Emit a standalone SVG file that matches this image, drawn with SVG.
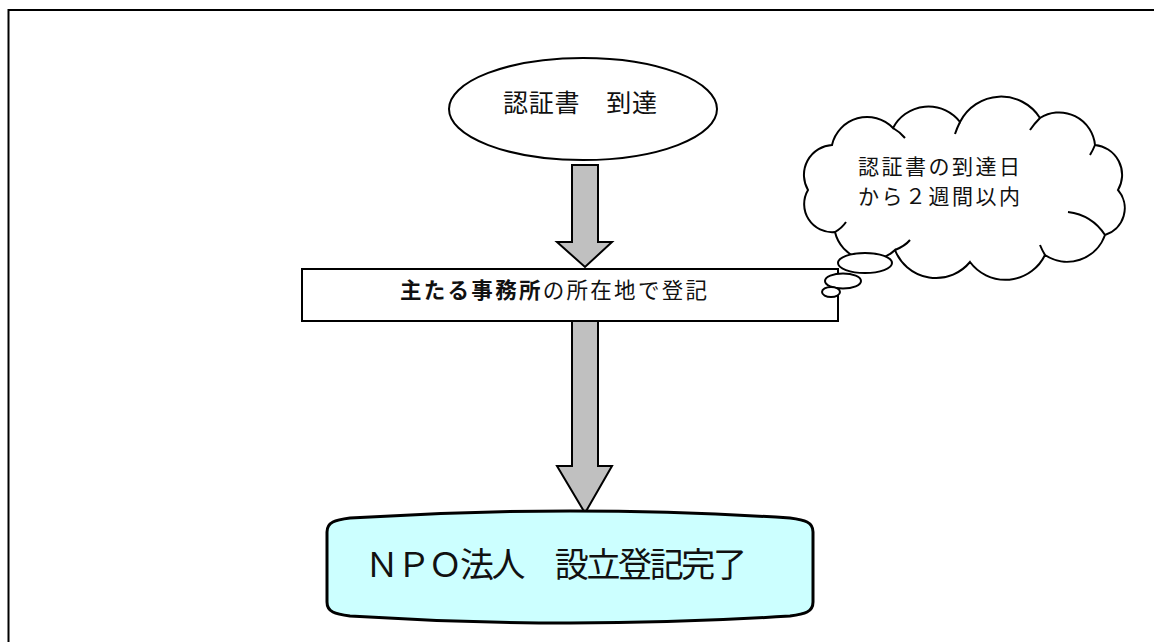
<svg xmlns="http://www.w3.org/2000/svg" width="1154" height="642" viewBox="0 0 1154 642">
<style>
text{font-family:"Noto Sans CJK JP","Liberation Sans",sans-serif;fill:#111}
.arrow{fill:#c0c0c0;stroke:#000;stroke-width:2;stroke-linejoin:miter}
.ln{fill:#fff;stroke:#000;stroke-width:2}
</style>
<rect x="0" y="0" width="1154" height="642" fill="#fff"/>
<rect x="8.5" y="10" width="1160" height="660" fill="none" stroke="#000" stroke-width="2"/>
<g id="connectors">
<path class="arrow" d="M572,165 L598,165 L598,242 L612,242 L585,267 L557,242 L572,242 Z"/>
<path class="arrow" d="M572,321 L598,321 L598,466 L612,466 L585,513 L557,466 L572,466 Z"/>
</g>
<g id="start">
<ellipse class="ln" cx="583" cy="109" rx="134" ry="51"/>
<text x="503" y="112" font-size="25" textLength="154" lengthAdjust="spacing">認証書　到達</text>
</g>
<g id="register">
<rect class="ln" x="302" y="269" width="536" height="52"/>
<text x="400" y="298" font-size="21.5" textLength="307" lengthAdjust="spacing"><tspan font-weight="bold">主たる事務所</tspan>の所在地で登記</text>
</g>
<g id="note">
<path class="ln" d="M832,145 A36,36 0 0 1 893,128 A40,40 0 0 1 960,122 A46,46 0 0 1 1040,118 A36,36 0 0 1 1095,145 A30,30 0 0 1 1118,190 A28,28 0 0 1 1105,235 A40,40 0 0 1 1045,255 A44,44 0 0 1 970,262 A44,44 0 0 1 895,250 A36,36 0 0 1 835,232 A28,28 0 0 1 808,190 A30,30 0 0 1 832,145 Z"/>
<path fill="none" stroke="#000" stroke-width="2" d="M893,128 Q900,132 905,138 M960,122 Q957,128 955,134 M1040,118 Q1034,124 1030,130 M1095,145 Q1093,150 1090,155 M1105,235 Q1092,215 1068,212 M1045,255 Q1042,250 1040,245 M895,250 Q905,246 910,240 M835,232 Q842,228 846,222"/>
<ellipse class="ln" cx="865" cy="263" rx="27" ry="10"/>
<ellipse class="ln" cx="843" cy="281" rx="18" ry="7.5"/>
<ellipse class="ln" cx="831" cy="292" rx="9" ry="5"/>
<text x="858" y="174" font-size="21" textLength="162" lengthAdjust="spacing">認証書の到達日</text>
<text x="858" y="204" font-size="21" textLength="162" lengthAdjust="spacing">から２週間以内</text>
</g>
<g id="end">
<path fill="#ccffff" stroke="#000" stroke-width="3" d="M327,532 C327,522 335,520 350,518 Q570,504 790,518 C805,520 813,522 813,532 L813,602 C813,612 805,614 790,616 Q570,630 350,616 C335,614 327,612 327,602 Z"/>
<text x="365" y="577" font-size="34" textLength="382" lengthAdjust="spacing">ＮＰＯ法人　設立登記完了</text>
</g>
</svg>
